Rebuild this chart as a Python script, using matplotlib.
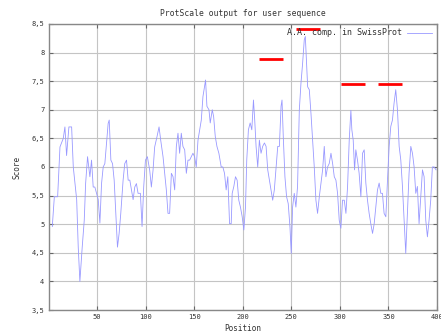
import matplotlib
matplotlib.use("Agg")
import matplotlib.pyplot as plt
from matplotlib.ticker import FuncFormatter

position = [3.9, 6, 9.4, 11.8, 15.2, 16.9, 18.6, 21, 23.8, 25.5, 29, 30.6, 32.3, 34.7, 36.8,
            38.2, 40.2, 42.6, 44.3, 46, 47.7, 49.4, 51.2, 52.9, 54.6, 56.3, 58, 59.7, 61.4,
            62.5, 64.2, 65.9, 67.6, 69.3, 71, 72.7, 74.4, 76.8, 78.5, 80.3, 82, 83.7, 85.4,
            87.1, 88.8, 90.5, 92.2, 94.6, 96.3, 98, 99.8, 101.8, 104.2, 105.9, 107.6, 109.3,
            111.7, 113.8, 115.5, 117.9, 119.6, 121.3, 123,
            124.7, 126.5, 128.2, 129.9, 131.6, 133.3, 135, 136.7, 138.4, 140.2, 141.9, 143.6,
            145.3, 147, 148.7, 150.4, 152.1, 153.9, 155.6, 157.3, 159, 160.7, 161.7, 163.1,
            165.2, 166.5, 168.6, 170, 171.7, 173.4, 175.4, 177.8, 179.5, 181.2, 182.9, 184.6,
            186.4, 188.1, 189.1, 190.8, 192.5, 194.2, 195.9, 197.6, 199.4, 201.1, 202.8, 204.1,
            205.8, 207.6, 209.3, 211, 212.3, 213.7, 215.4, 217.1, 218.8, 220.5, 222.3, 224,
            225.7, 227.4, 229.1, 230.8, 232.5, 234.3, 236, 237.7, 239.4, 240.4, 241.7, 243.4,
            245.1, 246.8, 248.6, 249.9, 251.3, 253, 254.7, 256.4,
            258.2, 259.9, 261.6, 263.3, 264.4, 265.7, 266.8, 268.5, 270.2, 271.9, 273.6, 275.3,
            277, 278.8, 280.5, 282.2, 283.9, 285.6, 287.3, 289, 290.8, 292.5, 294.2, 295.9,
            297.6, 299.3, 301, 302.7, 304.5, 306.2, 307.9, 309.6, 311.3, 312.3, 313.7, 315.1,
            316.4, 318.1, 319.8, 321.6, 323.3, 325, 326.7, 328.4, 330.1, 331.8, 333.6, 335.3,
            337, 338.7, 340.4, 342.1, 343.8, 345.5, 347.3, 349, 350.7, 352.4, 354.1, 355.8,
            357.5, 359.3, 361, 362.7, 364.4, 366.1, 367.8, 369.5, 371.2, 373, 374.7, 376.4,
            378.1, 379.8, 381.5, 383.2, 385, 386.7, 388.4, 390.1, 391.8, 393.5, 395.2, 397, 399]

score = [4.96, 5.48, 5.48, 6.35, 6.5, 6.7, 6.2, 6.7, 6.7, 6.0, 5.43, 4.6, 4.0, 4.6, 5.07,
         5.71, 6.18, 5.83, 6.12, 5.65, 5.65, 5.54, 5.43, 5.02, 5.71, 6.0, 6.06, 6.41, 6.76,
         6.82, 6.12, 6.06, 5.77, 5.19, 4.6, 4.84, 5.19, 5.77, 6.06, 6.12, 5.77, 5.77, 5.6,
         5.43, 5.65, 5.71, 5.54, 5.54, 4.96, 5.65, 6.12, 6.18, 5.94, 5.65, 5.94, 6.35,
         6.53, 6.7, 6.47, 6.18, 5.88, 5.6, 5.19,
         5.19, 5.89, 5.83, 5.6, 6.36, 6.59, 6.24, 6.59, 6.36, 6.3, 5.89, 6.12,
         6.12, 6.18, 6.24, 6.18, 6.0, 6.47, 6.65, 6.82, 7.23, 7.41, 7.52, 7.06,
         7.0, 6.77, 7.0, 6.88, 6.53, 6.36, 6.24, 6.0, 6.0, 5.89, 5.6, 5.83,
         5.01, 5.01, 5.54, 5.66, 5.83, 5.77, 5.42, 5.3, 5.13, 4.9, 5.3, 6.12,
         6.65, 6.77, 6.65, 7.17, 6.82, 6.36, 6.0, 6.47, 6.24, 6.36, 6.42, 6.36,
         5.95, 5.77, 5.6, 5.42, 5.6, 6.0, 6.36, 6.36, 7.06, 7.17, 6.53, 5.83,
         5.48, 5.36, 4.95, 4.49, 5.3, 5.54, 5.3, 5.66,
         6.99, 7.46, 7.81, 8.22, 8.28, 7.81, 7.4, 7.35, 6.94, 6.47, 6.0, 5.42,
         5.19, 5.48, 5.72, 5.95, 6.36, 5.83, 6.0, 6.06, 6.24, 6.06, 5.83, 5.77,
         5.54, 5.07, 4.93, 5.42, 5.42, 5.19, 5.66, 6.47, 6.99, 6.65, 6.47, 5.95,
         6.3, 6.12, 5.89, 5.48, 6.24, 6.3, 5.72, 5.42, 5.19, 5.01, 4.84, 5.01,
         5.3, 5.6, 5.72, 5.54, 5.54, 5.19, 5.13, 5.77, 6.36, 6.71, 6.82, 7.12,
         7.35, 6.99, 6.36, 6.12, 5.66, 5.07, 4.49, 5.19, 5.89, 6.36, 6.24, 6.0,
         5.54, 5.66, 5.01, 5.48, 5.95, 5.83, 5.07, 4.78, 5.07, 5.42, 6.0, 6.0, 5.95]

seg_start = [216.4, 254.8, 301.0, 339.6]
seg_end = [241.0, 279.4, 326.0, 364.3]
seg_level = [7.88, 8.41, 7.45, 7.45]

x_ticks = [50, 100, 150, 200, 250, 300, 350, 400]
y_ticks = [3.5, 4, 4.5, 5, 5.5, 6, 6.5, 7, 7.5, 8, 8.5]

plt.rcParams['font.family'] = ['DejaVu Sans Mono', 'DejaVu Sans']

fig = plt.figure(figsize=(4.41, 3.32), dpi=100)
ax = fig.add_axes([0.110, 0.066, 0.881, 0.862])

ax.plot(position, score, color=(0.6, 0.6, 1.0), lw=0.6,
        label='A.A. comp. in SwissProt')
ax.hlines(seg_level, seg_start, seg_end, colors='red', lw=2, zorder=3)

ax.set_xlim(0, 400)
ax.set_ylim(3.5, 8.5)
ax.set_xticks(x_ticks)
ax.set_yticks(y_ticks)

def fmt(v, pos):
    return ('%g' % v).replace('.', ',')

ax.yaxis.set_major_formatter(FuncFormatter(fmt))
ax.xaxis.set_major_formatter(FuncFormatter(fmt))
ax.tick_params(labelsize=5, direction='in', length=3, color='#666666',
               top=True, right=True, pad=3, labelcolor='#333333')
ax.grid(True, color='#c4c4c4', lw=0.8)
for s in ax.spines.values():
    s.set_color('#888888')
    s.set_linewidth(1.0)

ax.set_title('ProtScale output for user sequence', fontsize=5.8, color='#333333', pad=6)
ax.set_xlabel('Position', fontsize=5.5, color='#333333', labelpad=3)
ax.set_ylabel('Score', fontsize=5.5, color='#333333', labelpad=7)

leg = ax.legend(loc='upper right', fontsize=6, frameon=False, handlelength=3,
                borderaxespad=0.15, markerfirst=False, labelcolor='#333333',
                handletextpad=0.6)

fig.savefig('out.png', dpi=100)
